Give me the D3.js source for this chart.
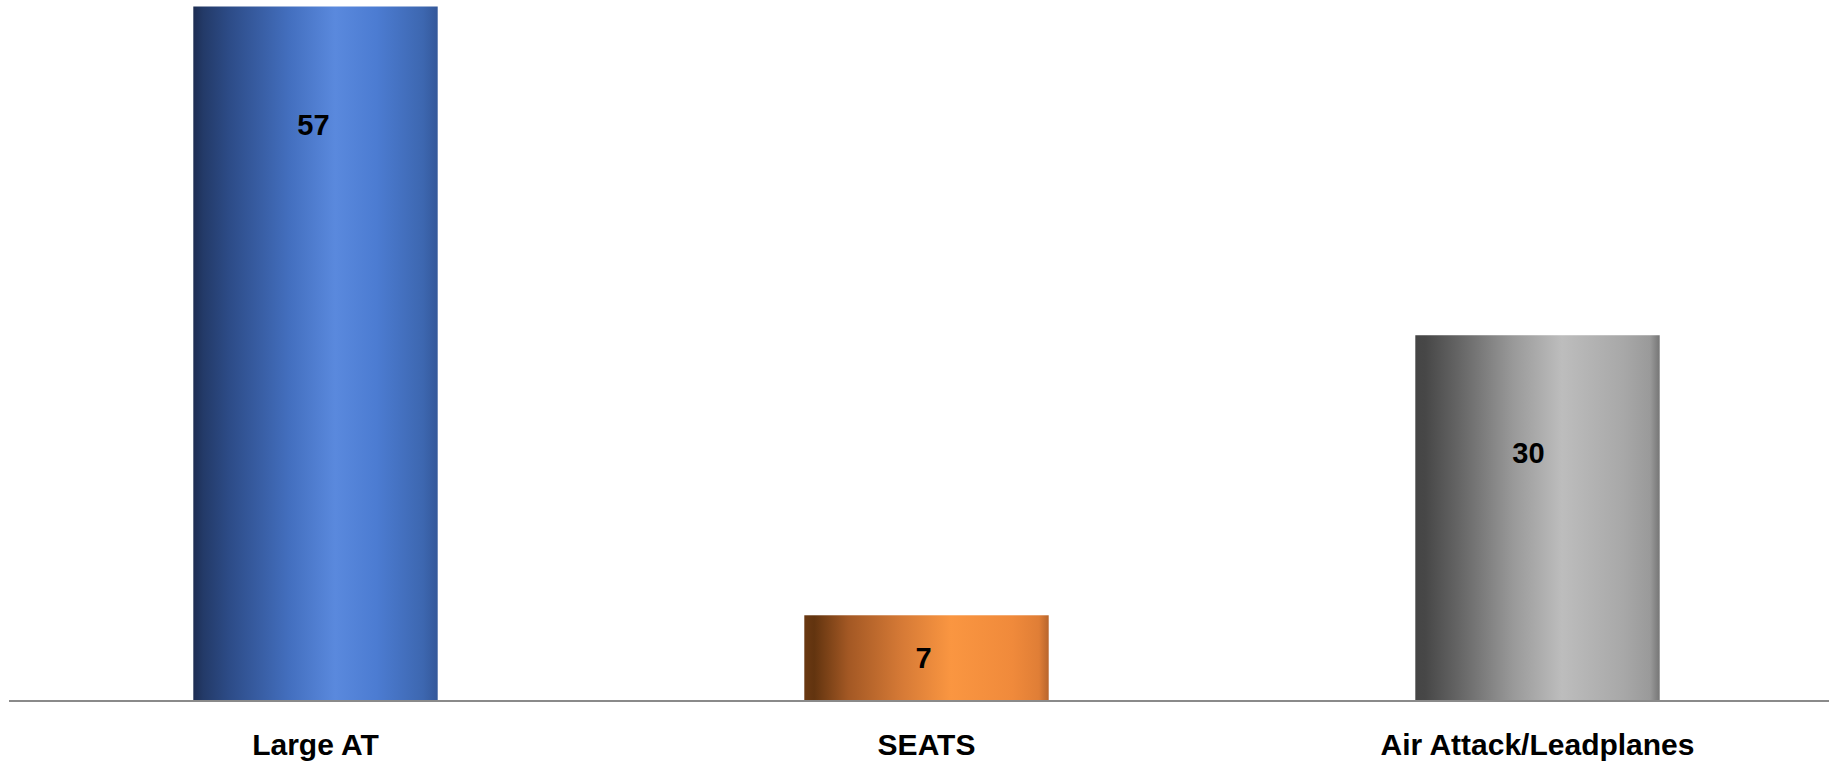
<!DOCTYPE html>
<html>
<head>
<meta charset="utf-8">
<script src="https://cdn.jsdelivr.net/npm/d3@7"></script>
<style>
  html, body { margin: 0; padding: 0; background: #fff; }
  svg { display: block; }
</style>
</head>
<body>
<svg id="chart" width="1829" height="766"></svg>
<script>
const categories = ["Large AT", "SEATS", "Air Attack/Leadplanes"];
const values = [57, 7, 30];
const gradientStops = [
  [["0%", "#1d2d52"], ["4%", "#233a68"], ["15%", "#2d4c88"], ["40%", "#4470c0"], ["58%", "#5a89dd"], ["75%", "#4c7cd2"], ["94%", "#3d67b0"], ["100%", "#34589a"]],
  [["0%", "#6a3812"], ["4%", "#62340f"], ["18%", "#a35824"], ["40%", "#d67a36"], ["60%", "#fa9641"], ["85%", "#f08a3b"], ["96%", "#e07e36"], ["100%", "#b8652c"]],
  [["0%", "#454545"], ["4%", "#474747"], ["20%", "#6a6a6a"], ["40%", "#999999"], ["60%", "#bdbdbd"], ["85%", "#a8a8a8"], ["96%", "#9a9a9a"], ["100%", "#767676"]]
];
// small manual horizontal nudges of the value labels (styling)
const labelNudge = [-2, -3, -9];

const svg = d3.select("#chart");
const W = 1829, H = 766;

const x = d3.scaleBand().domain(categories).range([10, 1843]).paddingInner(0.6).paddingOuter(0.3);
const y = d3.scaleLinear().domain([0, 57]).range([700.5, 6.5]);

const defs = svg.append("defs");
categories.forEach((c, i) => {
  const g = defs.append("linearGradient").attr("id", "grad" + i)
    .attr("x1", "0%").attr("x2", "100%").attr("y1", "0%").attr("y2", "0%");
  gradientStops[i].forEach(s => g.append("stop").attr("offset", s[0]).attr("stop-color", s[1]));
});

svg.selectAll("rect.bar").data(values).enter().append("rect")
  .attr("class", "bar")
  .attr("x", (d, i) => x(categories[i]))
  .attr("width", x.bandwidth())
  .attr("y", d => y(d))
  .attr("height", d => y(0) - y(d))
  .attr("fill", (d, i) => `url(#grad${i})`);

// axis baseline
svg.append("line")
  .attr("x1", 9).attr("x2", W)
  .attr("y1", y(0) + 0.5).attr("y2", y(0) + 0.5)
  .attr("stroke", "#8a8a8a").attr("stroke-width", 2);

// value labels
svg.selectAll("text.val").data(values).enter().append("text")
  .attr("class", "val")
  .attr("x", (d, i) => x(categories[i]) + x.bandwidth() / 2 + labelNudge[i])
  .attr("y", d => Math.min(y(d) + 118, (y(d) + y(0)) / 2))
  .attr("text-anchor", "middle")
  .attr("dominant-baseline", "central")
  .attr("font-family", "'Liberation Sans', Arial, sans-serif")
  .attr("font-weight", "bold")
  .attr("font-size", 29)
  .attr("fill", "#000")
  .text(d => d);

// category labels
const xAxis = d3.axisBottom(x).tickSize(0).tickPadding(0);
const ax = svg.append("g").attr("transform", `translate(0, ${y(0)})`).call(xAxis);
ax.select(".domain").remove();
ax.selectAll("text")
  .attr("y", 54.5)
  .attr("dy", 0)
  .attr("font-family", "'Liberation Sans', Arial, sans-serif")
  .attr("font-weight", "bold")
  .attr("font-size", 30)
  .attr("fill", "#000");
</script>
</body>
</html>
